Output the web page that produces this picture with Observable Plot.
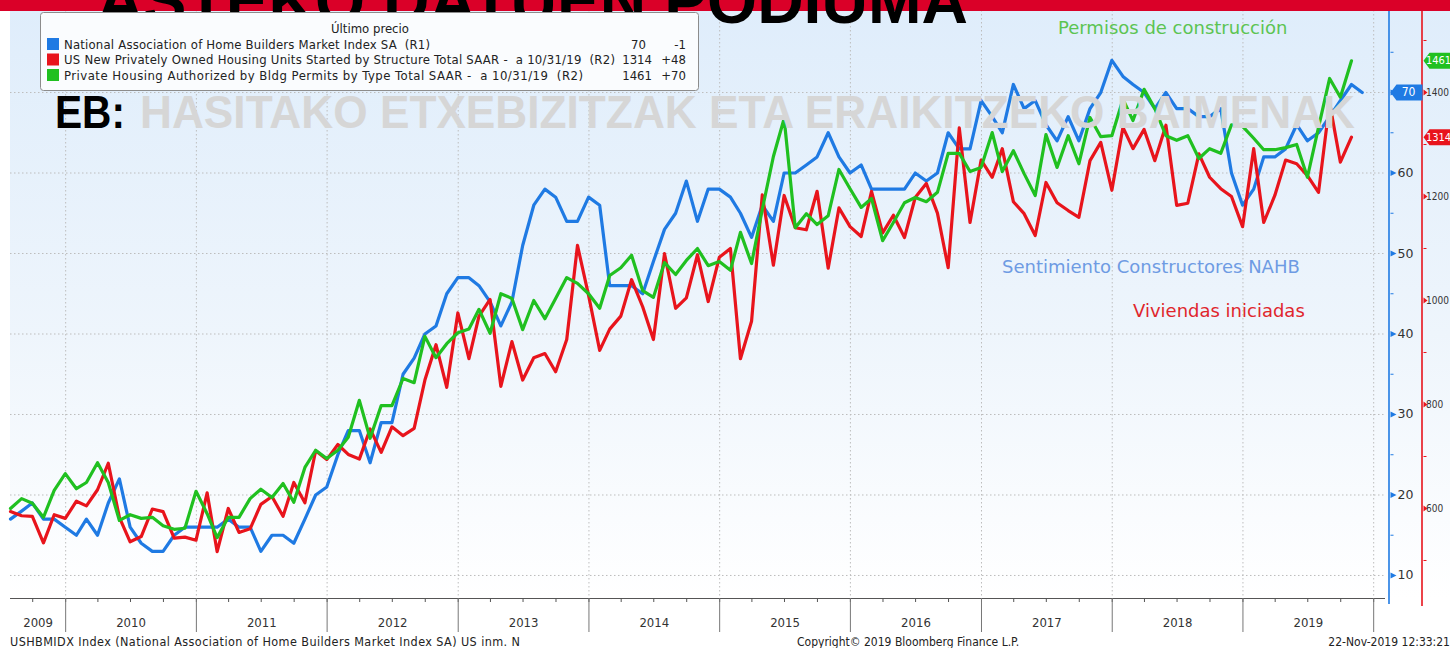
<!DOCTYPE html>
<html><head><meta charset="utf-8">
<script src="https://cdn.jsdelivr.net/npm/d3@7"></script>
<script src="https://cdn.jsdelivr.net/npm/@observablehq/plot@0.6"></script>
<style>
html,body{margin:0;padding:0;background:#fff;overflow:hidden}
#wrap{position:relative;width:1450px;height:648px;overflow:hidden}
#wrap svg{position:absolute;left:0;top:0}
</style>
</head><body><div id="wrap"></div>
<script>
// ---- data (monthly, Jul 2009 onwards) ----
const firstYear = 2009, firstMonth = 7; // July
const nahb = [17,18,19,17,17,16,
 15,17,15,19,22,16,14,13,13,15,16,16,
 16,16,17,16,16,13,15,15,14,17,20,21,
 25,28,28,24,29,29,35,37,40,41,45,47,
 47,46,44,41,44,51,56,58,57,54,54,57,
 56,46,46,46,45,49,53,55,59,54,58,58,
 57,55,52,56,54,60,60,61,62,65,62,60,
 61,58,58,58,58,60,59,60,65,63,63,69,
 67,65,71,68,69,66,64,67,64,68,70,74,
 72,71,70,68,70,68,68,67,67,68,60,56,
 58,62,62,63,66,64,65,67,69,71,70];
const starts = [594,586,585,534,588,581,
 614,605,636,687,583,536,546,599,594,543,545,539,
 630,517,600,554,561,608,623,585,650,611,711,694,
 723,704,695,753,708,757,740,754,847,915,833,976,
 888,970,1002,835,921,847,890,898,863,925,1106,1010,
 904,945,970,1040,988,925,1090,985,1005,1088,998,1083,
 1100,888,960,1203,1068,1202,1140,1136,1210,1062,1178,1142,
 1123,1210,1130,1164,1121,1198,1225,1168,1063,1332,1150,1270,
 1237,1292,1190,1167,1125,1227,1188,1173,1160,1269,1304,1212,
 1333,1292,1329,1269,1337,1183,1187,1282,1237,1215,1200,1142,
 1292,1150,1202,1270,1263,1240,1208,1380,1266,1314];
const permits = [600,619,610,583,635,667,
 638,650,688,650,577,588,581,583,567,560,562,633,
 590,544,583,583,619,637,621,648,612,679,712,696,
 712,737,808,735,798,798,850,842,931,890,917,938,
 945,983,937,1013,1004,944,1000,965,1004,1044,1033,1013,
 985,1048,1063,1087,1019,1006,1073,1050,1077,1100,1067,1075,
 1058,1131,1071,1175,1277,1350,1140,1167,1146,1163,1252,1215,
 1179,1196,1115,1150,1188,1198,1190,1208,1283,1283,1248,1256,
 1323,1248,1288,1244,1202,1319,1256,1317,1263,1352,1315,1317,
 1387,1346,1406,1369,1317,1308,1317,1273,1292,1283,1338,1335,
 1312,1290,1290,1294,1300,1237,1333,1427,1391,1461];

const seriesNames = [
 "National Association of Home Builders Market Index SA  (R1)",
 "US New Privately Owned Housing Units Started by Structure Total SAAR -  a 10/31/19  (R2)",
 "Private Housing Authorized by Bldg Permits by Type Total SAAR -  a 10/31/19  (R2)"
];
const legendHeader = "Último precio";
const years = [2009,2010,2011,2012,2013,2014,2015,2016,2017,2018,2019];
const leftTicks = [10,20,30,40,50,60,70];
const leftLabels = [10,20,30,40,50,60]; // 70 is shown by the value badge
const leftMinor = [15,25,35,45,55,65,75];
const rightTicks = [600,800,1000,1200,1400];
const rightMinor = [500,700,900,1100,1300,1500];
const annotations = ["Permisos de construcción","Sentimiento Constructores NAHB","Viviendas iniciadas"];
const titleText = "ASTEKO DATUEN PODIUMA";
const wmBlack = "EB:";
const wmGrey = "HASITAKO ETXEBIZITZAK ETA ERAIKITZEKO BAIMENAK";
const footer = ["USHBMIDX Index (National Association of Home Builders Market Index SA) US inm. N",
 "Copyright\u00A9 2019 Bloomberg Finance L.P.", "22-Nov-2019 12:33:21"];

// ---- styles ----
const BLUE = "#1f7ae3", RED = "#e8141c", GREEN = "#20c020";
const FC = "'DejaVu Sans Condensed','Liberation Sans Narrow','DejaVu Sans',sans-serif";
const FN = "'DejaVu Sans',Verdana,sans-serif";

const monthEnd = i => new Date(Date.UTC(firstYear, firstMonth + i, 0));
const blueData = nahb.map((v, i) => ({date: monthEnd(i), v}));
const redData = starts.map((v, i) => ({date: monthEnd(i), v}));
const greenData = permits.map((v, i) => ({date: monthEnd(i), v}));

const xDomain = [new Date(Date.UTC(2009,6,31)), new Date(Date.UTC(2020,1,3))];
const leftDomain = [7.14, 80.19];
const rightDomain = [426.9, 1557.7];
const r2l = d3.scaleLinear().domain(rightDomain).range(leftDomain);

const yearStarts = d3.range(2010, 2021).map(y => new Date(Date.UTC(y,0,1)));
const allQ = d3.utcMonths(new Date(Date.UTC(2009,9,1)), new Date(Date.UTC(2020,1,1))).filter(d => d.getUTCMonth() % 3 === 0);
const yearLabels = years.map(y => {
  const a = Math.max(+new Date(Date.UTC(y,0,1)), +xDomain[0]);
  const b = +new Date(Date.UTC(y+1,0,1));
  return {label: String(y), mid: new Date((a+b)/2)};
});

const triRight = (w, h) => ({draw(ctx){ ctx.moveTo(0,-h/2); ctx.lineTo(w,0); ctx.lineTo(0,h/2); ctx.closePath(); }});
const dash = (w) => ({draw(ctx){ ctx.moveTo(0,0); ctx.lineTo(w,0); }});
const badge = (w, h) => ({draw(ctx){ ctx.moveTo(0,0); ctx.lineTo(6,-h/2); ctx.lineTo(w,-h/2); ctx.lineTo(w,h/2); ctx.lineTo(6,h/2); ctx.closePath(); }});

function background(index, scales, values, dims) {
  const g = d3.create("svg:g");
  const lg = g.append("defs").append("linearGradient").attr("id","bgGrad")
    .attr("x1",0).attr("y1",0).attr("x2",0).attr("y2",1);
  lg.append("stop").attr("offset","0").attr("stop-color","#dfedfb");
  lg.append("stop").attr("offset","0.55").attr("stop-color","#eef5fc");
  lg.append("stop").attr("offset","1").attr("stop-color","#ffffff");
  g.append("rect").attr("x", dims.marginLeft).attr("y", dims.marginTop)
    .attr("width", dims.width - dims.marginLeft).attr("height", dims.height - dims.marginTop - dims.marginBottom)
    .attr("fill","url(#bgGrad)");
  return g.node();
}
function axisLines(index, scales, values, dims) {
  const g = d3.create("svg:g");
  const xr = dims.width - dims.marginRight;
  const yb = dims.height - dims.marginBottom;
  g.append("line").attr("x1", xr+4).attr("x2", xr+4).attr("y1", dims.marginTop).attr("y2", yb+6)
    .attr("stroke", BLUE).attr("stroke-width", 1.6);
  g.append("line").attr("x1", xr+37).attr("x2", xr+37).attr("y1", dims.marginTop).attr("y2", yb+8)
    .attr("stroke", RED).attr("stroke-width", 1.6);
  return g.node();
}

const lastB = nahb[nahb.length-1], lastR = starts[starts.length-1], lastG = permits[permits.length-1];

const chart = Plot.plot({
  width: 1450, height: 648,
  marginLeft: 10, marginRight: 65, marginTop: 10, marginBottom: 50,
  x: {type: "utc", domain: xDomain, label: null},
  y: {domain: leftDomain, axis: null},
  style: {fontFamily: FC, fontSize: "12px", color: "#333", background: "transparent"},
  marks: [
    background,
    Plot.ruleY([...leftTicks], {stroke: "#bdbdbd", strokeDasharray: "1.5,2.5", strokeWidth: 1}),
    Plot.ruleX(yearStarts, {stroke: "#bdbdbd", strokeDasharray: "1.5,2.5", strokeWidth: 1}),
    Plot.line(blueData, {x: "date", y: "v", stroke: BLUE, strokeWidth: 3.2}),
    Plot.line(redData, {x: "date", y: d => r2l(d.v), stroke: RED, strokeWidth: 3.2}),
    Plot.line(greenData, {x: "date", y: d => r2l(d.v), stroke: GREEN, strokeWidth: 3.2}),
    Plot.ruleY([leftDomain[0]], {stroke: "#555", strokeWidth: 1.2}),
    Plot.axisX(allQ, {tickSize: 4, tickFormat: () => "", stroke: "#555", label: null}),
    Plot.axisX(yearStarts, {tickSize: 34, tickFormat: () => "", stroke: "#777", label: null}),
    Plot.text(yearLabels, {x: "mid", text: "label", frameAnchor: "bottom", dy: 28, fontSize: 13, fill: "#333"}),
    axisLines,
    Plot.dot(leftTicks, {y: d => d, frameAnchor: "right", dx: 5, symbol: triRight(6,6), r: 3, fill: BLUE, stroke: null}),
    Plot.dot(leftMinor, {y: d => d, frameAnchor: "right", dx: 5, symbol: dash(3), r: 2, stroke: BLUE, strokeWidth: 1}),
    Plot.text(leftLabels, {y: d => d, text: d => String(d), frameAnchor: "right", dx: 12, textAnchor: "start", fontFamily: FN, fontSize: 12.5, fill: "#333"}),
    Plot.dot(rightTicks, {y: d => r2l(d), frameAnchor: "right", dx: 38, symbol: triRight(4,6), r: 3, fill: RED, stroke: null}),
    Plot.dot(rightMinor, {y: d => r2l(d), frameAnchor: "right", dx: 38, symbol: dash(3), r: 2, stroke: RED, strokeWidth: 1}),
    Plot.text(rightTicks, {y: d => r2l(d), text: d => String(d), frameAnchor: "right", dx: 40.5, textAnchor: "start", fontFamily: FC, fontSize: 10, fill: "#333"}),
    Plot.dot([lastB], {y: d => d, frameAnchor: "right", dx: 5, symbol: badge(32,16), r: 5, fill: BLUE, stroke: null}),
    Plot.text([lastB], {y: d => d, text: d => String(d), frameAnchor: "right", dx: 23, textAnchor: "middle", fill: "white", fontFamily: FC, fontSize: 12}),
    Plot.dot([lastG], {y: d => r2l(d), frameAnchor: "right", dx: 38, symbol: badge(40,16), r: 5, fill: GREEN, stroke: null}),
    Plot.text([lastG], {y: d => r2l(d), text: d => String(d), frameAnchor: "right", dx: 53, textAnchor: "middle", fill: "white", fontFamily: FC, fontSize: 11}),
    Plot.dot([lastR], {y: d => r2l(d), frameAnchor: "right", dx: 38, symbol: badge(40,16), r: 5, fill: RED, stroke: null}),
    Plot.text([lastR], {y: d => r2l(d), text: d => String(d), frameAnchor: "right", dx: 53, textAnchor: "middle", fill: "white", fontFamily: FC, fontSize: 11})
  ]
});
const wrap = document.getElementById("wrap");
wrap.appendChild(chart);

// ---- overlay: red band, title, legend, watermark, annotations, footer ----
const ov = d3.select(wrap).append("svg").attr("width",1450).attr("height",648)
  .style("pointer-events","none");
ov.append("rect").attr("x",0).attr("y",0).attr("width",1450).attr("height",11).attr("fill","#da0028");
ov.append("text").attr("x",97).attr("y",23).attr("font-family","'Liberation Sans',Arial,sans-serif")
  .attr("font-weight","bold").attr("font-size",64).attr("textLength",871).attr("lengthAdjust","spacingAndGlyphs")
  .attr("fill","#000").text(titleText);

// legend
const lgG = ov.append("g");
lgG.append("rect").attr("x",40.5).attr("y",12.5).attr("width",658).attr("height",78).attr("rx",3)
  .attr("fill","#fafcfe").attr("stroke","#8c8c8c");
lgG.append("text").attr("x",370).attr("y",33).attr("text-anchor","middle").attr("font-family",FC)
  .attr("font-size",13).attr("fill","#222").text(legendHeader);
const legendRows = [
  {name: seriesNames[0], color: BLUE, last: lastB, chg: lastB - nahb[nahb.length-2], vx: 646, len: 366},
  {name: seriesNames[1], color: RED, last: lastR, chg: lastR - starts[starts.length-2], vx: 652, len: 551},
  {name: seriesNames[2], color: GREEN, last: lastG, chg: lastG - permits[permits.length-2], vx: 652, len: 519}
];
legendRows.forEach((r, i) => {
  const cy = 44 + i*15.5;
  lgG.append("rect").attr("x",47).attr("y",cy-6).attr("width",12).attr("height",12).attr("fill",r.color);
  lgG.append("text").attr("x",64).attr("y",cy+4.5).attr("font-family",FC).attr("font-size",13)
    .attr("textLength", r.len).attr("fill","#222").attr("xml:space","preserve").style("white-space","pre").text(r.name);
  lgG.append("text").attr("x",r.vx).attr("y",cy+4.5).attr("text-anchor","end").attr("font-family",FC)
    .attr("font-size",13).attr("fill","#222").text(String(r.last));
  lgG.append("text").attr("x",686).attr("y",cy+4.5).attr("text-anchor","end").attr("font-family",FC)
    .attr("font-size",13).attr("fill","#222").text((r.chg > 0 ? "+" : "") + r.chg);
});

// watermark
ov.append("text").attr("x",55).attr("y",128).attr("font-family","'Liberation Sans',Arial,sans-serif")
  .attr("font-weight","bold").attr("font-size",46).attr("textLength",70).attr("lengthAdjust","spacingAndGlyphs")
  .attr("fill","#000").text(wmBlack);
ov.append("text").attr("x",140).attr("y",128).attr("font-family","'Liberation Sans',Arial,sans-serif")
  .attr("font-weight","bold").attr("font-size",46).attr("textLength",1215).attr("lengthAdjust","spacingAndGlyphs")
  .attr("fill","#d6d6d6").text(wmGrey);

// annotations
const annPos = [{x:1058,y:34,c:"#5cc452"},{x:1002,y:273,c:"#6e9be3"},{x:1133,y:317,c:"#e0262c"}];
annotations.forEach((t,i) => {
  ov.append("text").attr("x",annPos[i].x).attr("y",annPos[i].y).attr("font-family",FN)
    .attr("font-size",18).attr("fill",annPos[i].c).text(t);
});

// footer
ov.append("text").attr("x",10).attr("y",646).attr("font-family",FC).attr("font-size",12.5).attr("textLength",510).attr("fill","#222").text(footer[0]);
ov.append("text").attr("x",797).attr("y",646).attr("font-family",FC).attr("font-size",12).attr("fill","#222").text(footer[1]);
ov.append("text").attr("x",1450).attr("y",646).attr("text-anchor","end").attr("font-family",FC).attr("font-size",12).attr("fill","#222").text(footer[2]);
</script>
</body></html>
